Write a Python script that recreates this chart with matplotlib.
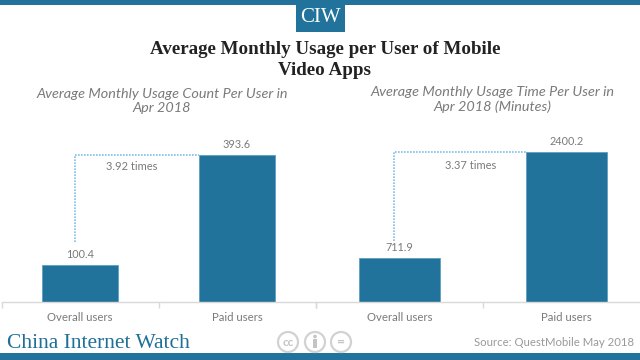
import matplotlib
matplotlib.use("Agg")
import matplotlib.pyplot as plt
from matplotlib.patches import Rectangle, Ellipse

categories = ["Overall users", "Paid users"]
count_values = [100.4, 393.6]
time_values = [711.9, 2400.2]
count_labels = ["100.4", "393.6"]
time_labels = ["711.9", "2400.2"]
count_ratio = "3.92 times"
time_ratio = "3.37 times"
title = "Average Monthly Usage per User of Mobile\nVideo Apps"
sub_left = "Average Monthly Usage Count Per User in\nApr 2018"
sub_right = "Average Monthly Usage Time Per User in\nApr 2018 (Minutes)"

W, H = 640, 360
BLUE = "#21739b"
GREY = "#7a7a7a"
SANS = ["Lato", "DejaVu Sans"]
SERIF = ["Liberation Serif", "DejaVu Serif"]

fig = plt.figure(figsize=(6.4, 3.6), dpi=100)
bg = fig.add_axes([0, 0, 1, 1])
bg.set_xlim(0, W)
bg.set_ylim(H, 0)
bg.axis("off")

bg.add_patch(Rectangle((0, 0), W, 4.5, color=BLUE, lw=0))
bg.add_patch(Rectangle((295.5, 0), 49, 32, color=BLUE, lw=0))
bg.add_patch(Rectangle((0, 353), W, 7, color=BLUE, lw=0))
bg.text(320, 18, "CIW", color="white", family=SERIF, fontsize=15, ha="center", va="center")
bg.text(325, 60, title, color="#222222", family=SERIF, fontweight="bold", fontsize=13.7,
        ha="center", va="center", linespacing=1.25)
bg.text(162, 101, sub_left, color=GREY, family=SANS, style="italic", fontsize=10.4,
        ha="center", va="center", linespacing=1.25)
bg.text(492, 99.5, sub_right, color=GREY, family=SANS, style="italic", fontsize=10.4,
        ha="center", va="center", linespacing=1.25)
bg.text(7, 343, "China Internet Watch", color="#1f6f97", family=SERIF, fontsize=15.5,
        ha="left", va="center")
bg.text(634, 343, "Source: QuestMobile May 2018", color="#9a9a9a", family=SANS, fontsize=8.2,
        ha="right", va="center")
ICON = "#d2d2d2"
for cx in (288, 315, 341):
    bg.add_patch(Ellipse((cx, 342), 20, 20, fill=False, ec=ICON, lw=1.6))
bg.text(288, 342, "cc", color="#c4c4c4", family=SANS, fontsize=8.5, fontweight="bold",
        ha="center", va="center")
bg.add_patch(Ellipse((315, 336.5), 3.6, 3.6, color="#c4c4c4", lw=0))
bg.add_patch(Rectangle((312.7, 339), 4.6, 9, color="#c4c4c4", lw=0))
bg.text(341, 341.5, "=", color="#c4c4c4", family=SANS, fontsize=10, fontweight="bold",
        ha="center", va="center")


def panel(x0, x1, base, top, values, labels, ratio, width, conn_x, conn_low, ratio_xy, lab_off):
    ax = fig.add_axes([x0 / W, 1 - base / H, (x1 - x0) / W, (base - top) / H])
    ax.set_xlim(-0.5, 1.5)
    ax.set_ylim(0, values[1])
    ax.patch.set_alpha(0)
    ax.bar([0, 1], values, width=width, color=BLUE, edgecolor="#5f9fc0", linewidth=0.6, zorder=2)
    for s in ["top", "left", "right"]:
        ax.spines[s].set_visible(False)
    ax.spines["bottom"].set_color("#d9d9d9")
    ax.spines["bottom"].set_linewidth(1)
    ax.set_yticks([])
    ax.set_xticks([-0.5, 0.5, 1.5])
    ax.set_xticklabels([])
    ax.tick_params(axis="x", direction="out", length=4, color="#d9d9d9", width=1)
    for i, c in enumerate(categories):
        ax.annotate(c, (i, 0), xytext=(0, -11.5), textcoords="offset points",
                    color=GREY, family=SANS, fontsize=8.2, ha="center", va="center", annotation_clip=False)
        ax.annotate(labels[i], (i, values[i]), xytext=(0, lab_off), textcoords="offset points",
                    color=GREY, family=SANS, fontsize=7.8, ha="center", va="center",
                    annotation_clip=False)
    ax.plot([conn_x, conn_x, 1 - width / 2], [conn_low * values[1], values[1], values[1]],
            color="#7fbfe8", lw=1.2, ls=(0, (1, 0.8)), clip_on=False, zorder=1)
    ax.text(ratio_xy[0], ratio_xy[1] * values[1], ratio, color=GREY, family=SANS, fontsize=8,
            ha="center", va="center")


panel(1.5, 315.5, 302, 155, count_values, count_labels, count_ratio, 0.49, -0.035, 0.405, (0.33, 0.92), 7.5)
panel(316, 650, 302, 152, time_values, time_labels, time_ratio, 0.49, -0.03, 0.405, (0.425, 0.91), 7.5)

fig.savefig("out.png", dpi=100)
